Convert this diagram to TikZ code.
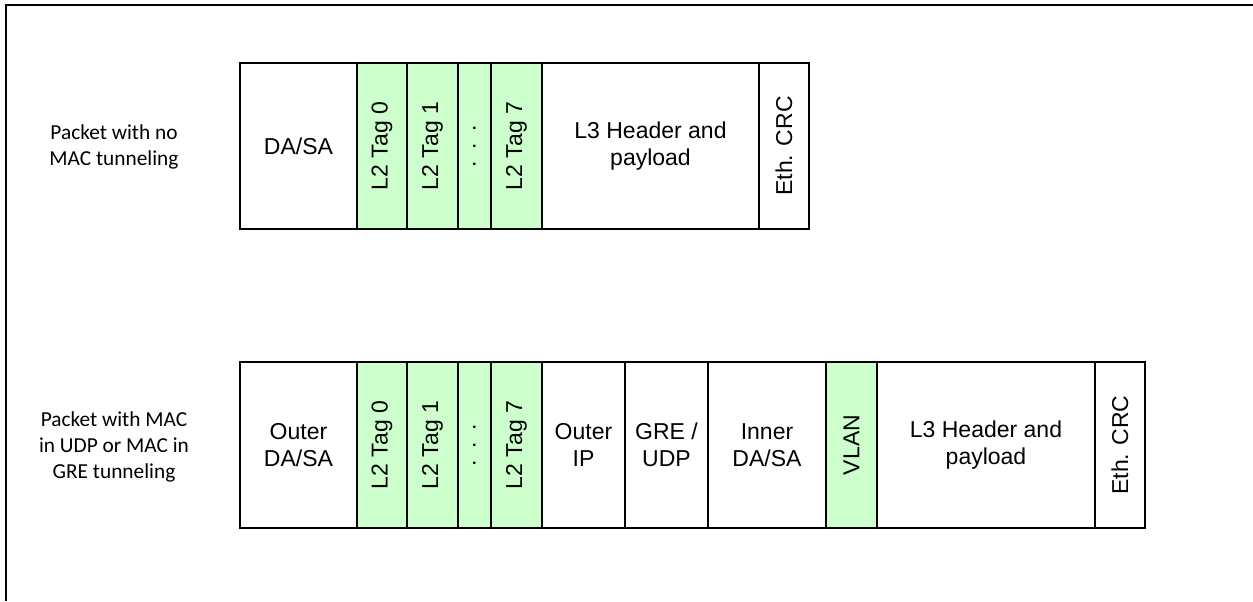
\documentclass[tikz,border=0pt]{standalone}
\usepackage{fontspec}
\setmainfont{Liberation Sans}
\newfontfamily\labelfont{Carlito}
\usepackage{tikz}
\usetikzlibrary{positioning}
\definecolor{tagfill}{RGB}{204,255,204}
\newcommand{\vtext}[1]{\rotatebox{90}{#1}}
\newcommand{\tagdots}{\rotatebox{90}{.\hspace{0.5em}.\hspace{0.5em}.}}

\begin{document}
\begin{tikzpicture}[
        x=0.75pt, y=-0.75pt,
        node distance=0pt,
        field/.style={rectangle, draw, fill=#1, line width=0.8pt,
            minimum height=124.5pt, inner sep=0pt, outer sep=0pt,
            align=center, font=\fontsize{17.25pt}{20pt}\selectfont},
        field/.default=white,
        pktlabel/.style={align=center, font=\labelfont\fontsize{16pt}{19.5pt}\selectfont}
    ]
        \useasboundingbox (0,0) rectangle (1253,601);
        \draw[line width=1.6pt] (6,601) -- (6,5) -- (1253,5);

        \node[pktlabel] (plain) at (114,147) {Packet with no\\MAC tunneling};
        \node[field, minimum width=87.75pt, anchor=west] (da) at (240,146) {DA/SA};
        \node[field=tagfill, minimum width=37.5pt, right=of da] (tag0) {\vtext{L2 Tag 0}};
        \node[field=tagfill, minimum width=38.25pt, right=of tag0] (tag1) {\vtext{L2 Tag 1}};
        \node[field=tagfill, minimum width=24.75pt, right=of tag1] (tagd) {\tagdots};
        \node[field=tagfill, minimum width=38.25pt, right=of tagd] (tag7) {\vtext{L2 Tag 7}};
        \node[field, minimum width=162.75pt, right=of tag7] (l3) {L3 Header and\\payload};
        \node[field, minimum width=37.5pt, right=of l3] (crc) {\vtext{Eth. CRC}};

        \node[pktlabel] (tunnel) at (114,447) {Packet with MAC\\in UDP or MAC in\\GRE tunneling};
        \node[field, minimum width=87.75pt, anchor=west] (oda) at (240,445) {Outer\\DA/SA};
        \node[field=tagfill, minimum width=37.5pt, right=of oda] (otag0) {\vtext{L2 Tag 0}};
        \node[field=tagfill, minimum width=38.25pt, right=of otag0] (otag1) {\vtext{L2 Tag 1}};
        \node[field=tagfill, minimum width=24.75pt, right=of otag1] (otagd) {\tagdots};
        \node[field=tagfill, minimum width=38.25pt, right=of otagd] (otag7) {\vtext{L2 Tag 7}};
        \node[field, minimum width=62.25pt, right=of otag7] (oip) {Outer\\IP};
        \node[field, minimum width=62.25pt, right=of oip] (gre) {GRE /\\UDP};
        \node[field, minimum width=88.5pt, right=of gre] (ida) {Inner\\DA/SA};
        \node[field=tagfill, minimum width=38.25pt, right=of ida] (vlan) {\vtext{VLAN}};
        \node[field, minimum width=163.5pt, right=of vlan] (il3) {L3 Header and\\payload};
        \node[field, minimum width=37.5pt, right=of il3] (icrc) {\vtext{Eth. CRC}};
    \end{tikzpicture}
\end{document}
